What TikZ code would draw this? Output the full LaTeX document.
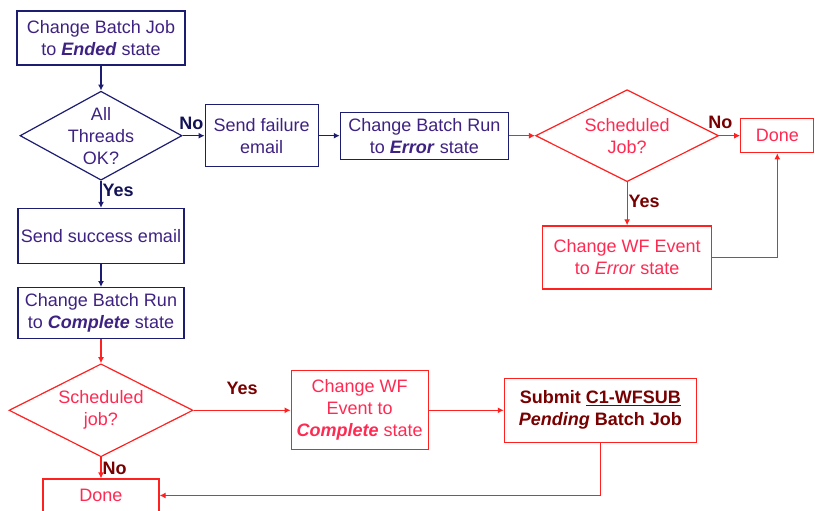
\documentclass[tikz,border=0pt]{standalone}
\usepackage{fontspec}
\setmainfont{Liberation Sans}
\usetikzlibrary{arrows.meta,positioning,shapes.geometric}
\definecolor{flowblue}{RGB}{28,28,112}
\definecolor{textblue}{RGB}{62,34,130}
\definecolor{labblue}{RGB}{18,18,86}
\definecolor{flowred}{RGB}{255,32,32}
\definecolor{textred}{RGB}{255,42,82}
\definecolor{labred}{RGB}{120,0,0}
\tikzset{
  bbox/.style={draw=flowblue, line width=1.2pt, text=textblue, align=center, inner sep=2pt},
  rbox/.style={draw=flowred, line width=1.2pt, text=textred, align=center, inner sep=2pt},
  bdia/.style={diamond, draw=flowblue, line width=1.2pt, inner sep=0pt,
               label={[text=textblue, align=center]center:#1}},
  rdia/.style={diamond, draw=flowred, line width=1.2pt, inner sep=0pt,
               label={[text=textred, align=center]center:#1}},
  bflow/.style={-{Latex[length=6pt,width=6pt]}, line width=1.2pt, draw=flowblue},
  rflow/.style={-{Latex[length=6pt,width=6pt]}, line width=1.2pt, draw=flowred},
  blab/.style={font=\fontsize{18}{20}\selectfont\bfseries, text=labblue, inner sep=1pt},
  rlab/.style={font=\fontsize{18}{20}\selectfont\bfseries, text=labred, inner sep=1pt},
}

\begin{document}
\begin{tikzpicture}[x=1pt, y=-1pt, every node/.style={font=\fontsize{18}{22}\selectfont}]
    \useasboundingbox (0,0) rectangle (815,511);
    % blue part
    \node[bbox, minimum width=168pt, minimum height=54pt] (jobend) at (101,38) {Change Batch Job\\ to \textit{\textbf{Ended}} state};
    \node[bdia={All\\ Threads\\ OK?}, minimum width=162pt, minimum height=89pt, below=25pt of jobend] (threads) {};
    \node[bbox, minimum width=113pt, minimum height=62pt, right=22pt of threads] (failmail) {Send failure\\ email};
    \node[bbox, minimum width=168pt, minimum height=47pt, right=21pt of failmail] (runerr) {Change Batch Run\\ to \textit{\textbf{Error}} state};
    \node[bbox, minimum width=166pt, minimum height=55pt, below=27pt of threads] (okmail) {Send success email};
    \node[bbox, minimum width=166pt, minimum height=51pt, below=23pt of okmail] (runok) {Change Batch Run\\ to \textit{\textbf{Complete}} state};
    % red part
    \node[rdia={Scheduled\\ Job?}, minimum width=183pt, minimum height=92pt, right=26pt of runerr] (schedA) {};
    \node[rbox, minimum width=73pt, minimum height=34pt, right=21pt of schedA] (doneA) {Done};
    \node[rbox, minimum width=169pt, minimum height=63pt, below=43pt of schedA] (wferr) {Change WF Event\\ to \textit{Error} state};
    \node[rdia={Scheduled\\ job?}, minimum width=184pt, minimum height=93pt, below=24pt of runok] (schedB) {};
    \node[rbox, minimum width=137pt, minimum height=79pt, right=97pt of schedB] (wfok) {Change WF\\ Event to\\ \textit{\textbf{Complete}} state};
    \node[rbox, minimum width=192pt, minimum height=64pt, right=75pt of wfok, text=labred, font=\fontsize{18}{22}\selectfont\bfseries] (submit) {Submit \underline{C1-WFSUB}\\ \textit{Pending} Batch Job};
    \node[rbox, minimum width=116pt, minimum height=33pt, below=21pt of schedB] (doneB) {Done};
    % connectors
    \draw[bflow] (jobend) -- (threads);
    \draw[bflow] (threads) -- node[blab, above=4pt, pos=0.4] {No} (failmail);
    \draw[bflow] (failmail) -- (runerr);
    \draw[bflow] (threads) -- node[blab, right, pos=0.35] {Yes} (okmail);
    \draw[bflow] (okmail) -- (runok);
    \draw[rflow] (runerr) -- (schedA);
    \draw[rflow] (schedA) -- node[rlab, above=5pt, pos=0.05] {No} (doneA);
    \draw[rflow] (schedA) -- node[rlab, right, pos=0.45] {Yes} (wferr);
    \draw[rflow] (wferr.east) -| (doneA.south);
    \draw[rflow] (runok) -- (schedB);
    \draw[rflow] (schedB) -- node[rlab, above=14pt, pos=0.5] {Yes} (wfok);
    \draw[rflow] (wfok) -- (submit);
    \draw[rflow] (submit.south) |- (doneB.east);
    \draw[rflow] (schedB) -- node[rlab, right, pos=0.5] {No} (doneB);
  \end{tikzpicture}
\end{document}
